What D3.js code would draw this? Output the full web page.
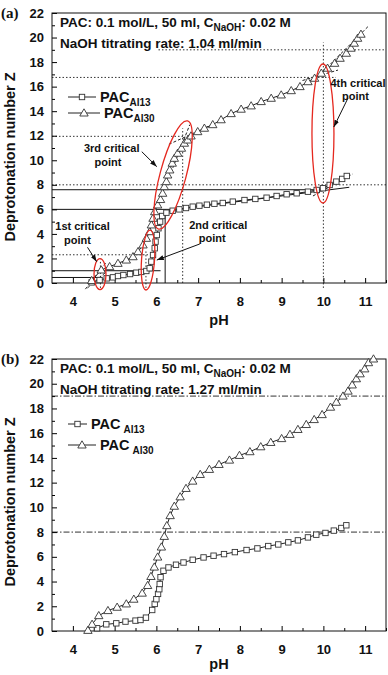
<!DOCTYPE html>
<html>
<head>
<meta charset="utf-8">
<script src="https://cdn.jsdelivr.net/npm/d3@7"></script>
<style>
  body { margin: 0; background: #fff; }
  svg text { font-family: Arial, "Liberation Sans", sans-serif; font-weight: bold; fill: #111; }
</style>
</head>
<body>
<div id="chart"></div>
<script>
// axis values
const phDomain = [3.5, 11.5];
const zDomain = [0, 22];
const phTicks = [4, 5, 6, 7, 8, 9, 10, 11];
const phMinor = [4.5, 5.5, 6.5, 7.5, 8.5, 9.5, 10.5, 11.5];
const zTicks = [0, 2, 4, 6, 8, 10, 12, 14, 16, 18, 20, 22];
const zMinor = [1, 3, 5, 7, 9, 11, 13, 15, 17, 19, 21];

// (a) titrating rate 1.04 ml/min  [pH, Z]
const al13A = [[4.45,0.05],[4.64,0.24],[4.81,0.38],[4.96,0.46],[5.08,0.57],[5.21,0.65],[5.37,0.73],[5.52,0.84],
  [5.64,0.9],[5.76,0.98],[5.84,1.2],[5.88,1.74],[5.92,2.28],[5.96,2.83],[5.98,3.37],[6.01,3.91],[6.05,4.46],
  [6.09,5.0],[6.14,5.46],[6.24,5.73],[6.39,5.89],[6.55,6.0],[6.71,6.11],[6.87,6.22],[7.03,6.3],[7.21,6.38],
  [7.39,6.46],[7.59,6.52],[7.83,6.63],[8.11,6.76],[8.37,6.85],[8.64,6.95],[8.88,7.09],[9.12,7.23],[9.36,7.31],
  [9.63,7.44],[9.84,7.58],[9.99,7.72],[10.15,7.99],[10.31,8.26],[10.45,8.48],[10.56,8.72]];
const al30A = [[4.45,0.2],[4.68,1.06],[4.88,1.33],[5.08,1.6],[5.28,1.87],[5.44,2.14],[5.56,2.55],[5.68,3.1],
  [5.76,3.64],[5.84,4.18],[5.88,4.73],[5.92,5.27],[5.96,5.81],[6.03,6.36],[6.1,6.8],[6.15,7.31],[6.19,7.85],
  [6.24,8.26],[6.27,8.8],[6.32,9.21],[6.38,9.76],[6.43,10.16],[6.51,10.57],[6.6,10.98],[6.67,11.39],[6.75,11.65],
  [6.83,11.98],[6.99,12.33],[7.15,12.61],[7.35,12.9],[7.55,13.3],[7.79,13.8],[8.03,14.16],[8.27,14.43],
  [8.51,14.78],[8.75,15.05],[8.99,15.32],[9.23,15.67],[9.44,16.0],[9.63,16.4],[9.79,16.68],[9.95,17.09],
  [10.1,17.5],[10.27,17.9],[10.4,18.31],[10.55,18.72],[10.66,19.13],[10.74,19.54],[10.82,19.94],[10.9,20.27]];

// (b) titrating rate 1.27 ml/min
const al13B = [[4.58,0.22],[4.8,0.54],[5.04,0.62],[5.26,0.76],[5.5,0.84],[5.62,0.89],[5.75,1.08],[5.9,1.7],
  [5.96,2.19],[6.0,2.57],[6.04,3.0],[6.07,3.38],[6.08,3.8],[6.1,4.35],[6.17,4.87],[6.29,5.14],[6.47,5.36],
  [6.65,5.54],[6.87,5.76],[7.13,5.95],[7.37,6.09],[7.62,6.22],[7.88,6.38],[8.16,6.55],[8.42,6.68],[8.68,6.87],
  [8.92,7.0],[9.16,7.17],[9.39,7.33],[9.63,7.57],[9.83,7.79],[10.05,7.93],[10.25,8.12],[10.43,8.33],[10.55,8.55]];
const al30B = [[4.36,0.05],[4.46,0.54],[4.62,1.24],[4.84,1.65],[5.06,1.92],[5.28,2.19],[5.46,2.57],[5.66,3.06],
  [5.79,3.68],[5.87,4.41],[5.95,5.17],[6.03,5.98],[6.12,6.79],[6.19,7.65],[6.25,8.52],[6.33,9.33],[6.43,10.09],
  [6.57,10.85],[6.71,11.53],[6.87,12.12],[7.05,12.66],[7.27,13.07],[7.5,13.47],[7.75,13.82],[7.99,14.2],
  [8.24,14.5],[8.5,14.9],[8.74,15.25],[9.0,15.56],[9.2,15.9],[9.39,16.3],[9.59,16.7],[9.78,17.1],[9.97,17.5],
  [10.17,18.1],[10.31,18.5],[10.47,19.0],[10.59,19.4],[10.69,19.9],[10.79,20.4],[10.88,20.8],[10.99,21.2],
  [11.08,21.7],[11.2,22.0]];

// guide lines [pH1, Z1, pH2, Z2]
const solidA = [[3.5,0.45,4.7,0.45],[3.5,1.0,6.1,1.0],[3.5,6.0,6.5,6.0],[3.5,7.6,10.0,7.6],
  [6.21,0,6.21,6.0],[6.2,5.87,10.62,7.8]];
const dottedA = [[3.5,2.3,5.95,2.3],[3.5,8.0,11.5,8.0],[3.5,11.95,6.65,11.95],[3.5,16.75,10.3,16.75],
  [6.05,19.0,11.5,19.0],[4.66,-0.4,4.66,1.9],[5.75,-0.4,5.75,2.7],[6.63,0,6.63,12.6],[10.0,-0.4,10.0,19.6]];
const dashedA = [[4.3,-0.5,4.8,1.7],[4.35,-0.4,4.78,0.85],[6.3,11.3,7.4,13.0],[6.35,9.0,6.8,12.9],
  [9.5,16.5,10.35,17.35],[9.83,16.68,11.1,21.0],[9.75,7.09,10.7,8.88]];
const dashDotB = [[3.5,19,11.5,19],[3.5,8,11.5,8]];

// critical point marks (a)
const critEllipses = [[4.65,0.73,6,15.5,0],[5.8,1.87,6.5,30,4],[6.4,8.8,13,56,15],[9.99,12.18,11,69.5,0]];
const critArrows = [[4.35,2.91,4.57,1.74],[7.04,3.18,6.01,1.87],[5.65,10.7,6.01,9.48],[10.59,15.07,10.25,12.71]];
const critLabels = [["1st critical",4.23,4.28],["point",4.11,3.14],["2nd critical",7.48,4.44],["point",7.34,3.36],
  ["3rd critical",4.93,10.67],["point",4.84,9.53],["4th critical",10.83,15.99],["point",10.77,14.91]];

const svg = d3.select("#chart").append("svg")
    .attr("width", 388).attr("height", 675);

svg.append("defs").append("marker")
    .attr("id", "arrow").attr("viewBox", "0 0 10 10")
    .attr("refX", 10).attr("refY", 5)
    .attr("markerWidth", 7).attr("markerHeight", 7)
    .attr("orient", "auto")
  .append("path").attr("d", "M0,1.5L10,5L0,8.5Z").attr("fill", "#111");

const triangle = "M0,-4.2L4.2,3L-4.2,3Z";

function drawPanel(p) {
    const x = d3.scaleLinear().domain(phDomain).range([52, 386]);
    const y = d3.scaleLinear().domain(zDomain).range([p.bottom, p.top]);
    const g = svg.append("g");

    // reference lines
    const guides = (rows, dash, color, w) => g.append("g").selectAll("line")
        .data(rows).join("line")
        .attr("x1", d => x(d[0])).attr("y1", d => y(d[1]))
        .attr("x2", d => x(d[2])).attr("y2", d => y(d[3]))
        .attr("stroke", color).attr("stroke-width", w)
        .attr("stroke-dasharray", dash);
    if (p.solid) guides(p.solid, null, "#111", 1);
    if (p.dotted) guides(p.dotted, "1.5,2", "#333", 1);
    if (p.dashed) guides(p.dashed, "3,2", "#222", 1);
    if (p.dashDot) guides(p.dashDot, "6,2,1.5,2", "#333", 1);

    // axes (ticks inside)
    const fontAxis = a => a.attr("font-size", 13).attr("font-family", "Arial, Liberation Sans")
        .attr("font-weight", "bold").call(s => s.select(".domain").remove());
    g.append("g").attr("transform", `translate(0,${p.bottom})`)
        .call(d3.axisBottom(x).tickValues(phTicks).tickSize(-5).tickPadding(14)).call(fontAxis);
    g.append("g").attr("transform", `translate(0,${p.bottom})`)
        .call(d3.axisBottom(x).tickValues(phMinor).tickSize(-3).tickFormat(() => "")).call(fontAxis);
    g.append("g").attr("transform", "translate(52,0)")
        .call(d3.axisLeft(y).tickValues(zTicks).tickSize(-5).tickPadding(8)).call(fontAxis);
    g.append("g").attr("transform", "translate(52,0)")
        .call(d3.axisLeft(y).tickValues(zMinor).tickSize(-3).tickFormat(() => "")).call(fontAxis);

    g.append("rect").attr("x", 52).attr("y", p.top)
        .attr("width", 334).attr("height", p.bottom - p.top)
        .attr("fill", "none").attr("stroke", "#111").attr("stroke-width", 1);

    // series
    const line = d3.line().x(d => x(d[0])).y(d => y(d[1]));
    [p.al13, p.al30].forEach(s => g.append("path").datum(s)
        .attr("d", line).attr("fill", "none").attr("stroke", "#222").attr("stroke-width", 1));

    g.append("g").selectAll("rect").data(p.al13).join("rect")
        .attr("x", d => x(d[0]) - 2.7).attr("y", d => y(d[1]) - 2.7)
        .attr("width", 5.4).attr("height", 5.4)
        .attr("fill", "#fff").attr("stroke", "#333").attr("stroke-width", 0.9);
    g.append("g").selectAll("path").data(p.al30).join("path")
        .attr("d", triangle)
        .attr("transform", d => `translate(${x(d[0])},${y(d[1])})`)
        .attr("fill", "#fff").attr("stroke", "#333").attr("stroke-width", 0.9);

    // annotations for critical points
    if (p.crit) {
        g.append("g").selectAll("ellipse").data(critEllipses).join("ellipse")
            .attr("cx", d => x(d[0])).attr("cy", d => y(d[1]))
            .attr("rx", d => d[2]).attr("ry", d => d[3])
            .attr("transform", d => `rotate(${d[4]},${x(d[0])},${y(d[1])})`)
            .attr("fill", "none").attr("stroke", "#e5281f").attr("stroke-width", 1.3);
        g.append("g").selectAll("line").data(critArrows).join("line")
            .attr("x1", d => x(d[0])).attr("y1", d => y(d[1]))
            .attr("x2", d => x(d[2])).attr("y2", d => y(d[3]))
            .attr("stroke", "#111").attr("stroke-width", 1)
            .attr("marker-end", "url(#arrow)");
        g.append("g").selectAll("text").data(critLabels).join("text")
            .attr("x", d => x(d[1])).attr("y", d => y(d[2]))
            .attr("text-anchor", "middle").attr("font-size", 11)
            .text(d => d[0]);
    }

    // header text
    const h1 = g.append("text").attr("x", 60).attr("y", p.top + 14).attr("font-size", 13.5);
    h1.append("tspan").text("PAC: 0.1 mol/L, 50 ml, C");
    h1.append("tspan").attr("font-size", 10).attr("dy", 4).text("NaOH");
    h1.append("tspan").attr("dy", -4).text(": 0.02 M");
    g.append("text").attr("x", 60).attr("y", p.top + 35).attr("font-size", 13.5)
        .text(p.rateText);

    // legend
    const leg = [["Al13", p.legY[0], p.legX[0], "sq"], ["Al30", p.legY[1], p.legX[1], "tri"]];
    leg.forEach(([sub, ly, lx, kind]) => {
        const yy = p.top + ly;
        g.append("line").attr("x1", 68).attr("x2", lx - 4).attr("y1", yy).attr("y2", yy)
            .attr("stroke", "#222");
        const cx = (68 + lx - 4) / 2;
        if (kind === "sq") {
            g.append("rect").attr("x", cx - 2.7).attr("y", yy - 2.7).attr("width", 5.4).attr("height", 5.4)
                .attr("fill", "#fff").attr("stroke", "#333").attr("stroke-width", 0.9);
        } else {
            g.append("path").attr("d", triangle).attr("transform", `translate(${cx},${yy})`)
                .attr("fill", "#fff").attr("stroke", "#333").attr("stroke-width", 0.9);
        }
        const t = g.append("text").attr("x", lx).attr("y", yy + 5).attr("font-size", 14.5);
        t.append("tspan").text("PAC");
        t.append("tspan").attr("font-size", 10).attr("dy", 4).attr("dx", p.subGap).text(sub);
    });

    // axis titles
    g.append("text").attr("text-anchor", "middle").attr("font-size", 14.5)
        .attr("transform", `translate(14.5,${p.yLabelY}) rotate(-90)`)
        .text("Deprotonation number Z");
    g.append("text").attr("x", 219).attr("y", p.bottom + p.phGap)
        .attr("text-anchor", "middle").attr("font-size", 14.5).text("pH");
    g.append("text").attr("x", 1).attr("y", p.top + 5)
        .style("font-family", "'Liberation Serif', 'Times New Roman', serif")
        .attr("font-size", 15).text(p.tag);
}

drawPanel({
    top: 13, bottom: 283, tag: "(a)",
    al13: al13A, al30: al30A,
    solid: solidA, dotted: dottedA, dashed: dashedA, crit: true,
    rateText: "NaOH titrating rate: 1.04 ml/min",
    legY: [84, 100], legX: [100, 104], subGap: 0, yLabelY: 157, phGap: 42
});

drawPanel({
    top: 359, bottom: 631, tag: "(b)",
    al13: al13B, al30: al30B,
    dashDot: dashDotB, crit: false,
    rateText: "NaOH titrating rate: 1.27 ml/min",
    legY: [65, 86], legX: [91, 100], subGap: 3, yLabelY: 502, phGap: 38
});
</script>
</body>
</html>
